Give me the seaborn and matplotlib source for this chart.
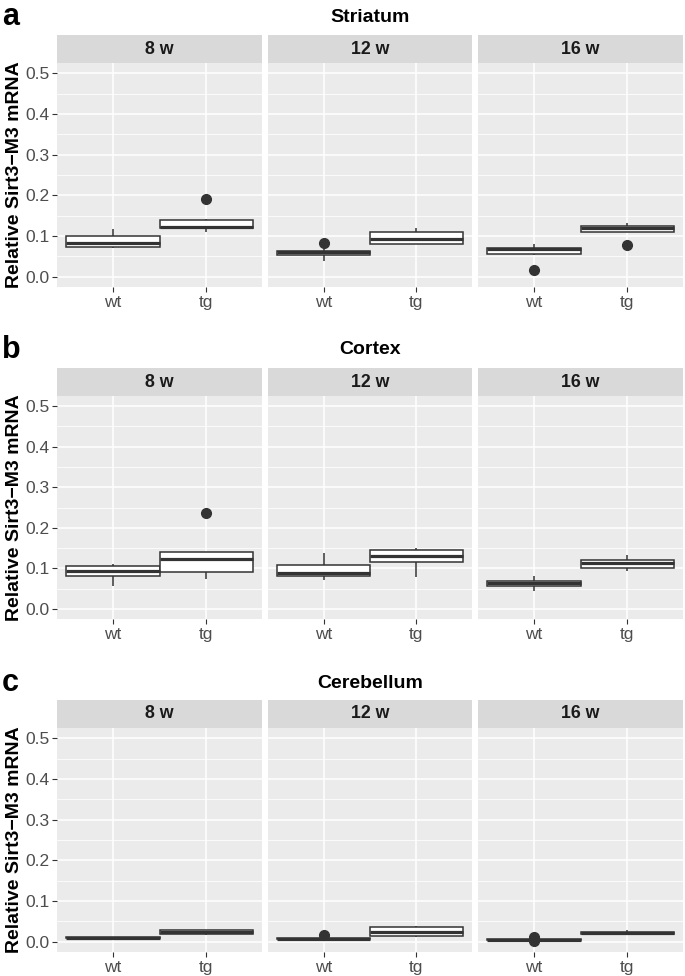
import numpy as np
import pandas as pd
import matplotlib
matplotlib.use("Agg")
import matplotlib.pyplot as plt
import seaborn as sns

plt.rcParams['font.family'] = ['Liberation Sans', 'DejaVu Sans']

# ---------------- data ----------------
tissues = ["Striatum", "Cortex", "Cerebellum"]
panel_letters = ["a", "b", "c"]
ages = ["8 w", "12 w", "16 w"]
genotypes = ["wt", "tg"]
y_ticks = [0.0, 0.1, 0.2, 0.3, 0.4, 0.5]
y_label = "Relative Sirt3\u2212M3 mRNA"

striatum_8w_wt = [0.070, 0.072, 0.073, 0.078, 0.084, 0.090, 0.100, 0.108, 0.117]
striatum_8w_tg = [0.110, 0.118, 0.120, 0.121, 0.123, 0.130, 0.140, 0.1415, 0.191]
striatum_12w_wt = [0.039, 0.050, 0.053, 0.057, 0.061, 0.062, 0.064, 0.070, 0.083]
striatum_12w_tg = [0.080, 0.081, 0.0815, 0.088, 0.092, 0.100, 0.111, 0.115, 0.119]
striatum_16w_wt = [0.016, 0.054, 0.055, 0.060, 0.068, 0.070, 0.0716, 0.076, 0.081]
striatum_16w_tg = [0.078, 0.111, 0.111, 0.115, 0.119, 0.121, 0.124, 0.128, 0.131]

cortex_8w_wt = [0.056, 0.075, 0.082, 0.088, 0.093, 0.100, 0.106, 0.109, 0.111]
cortex_8w_tg = [0.0745, 0.085, 0.090, 0.110, 0.122, 0.130, 0.140, 0.140, 0.236]
cortex_12w_wt = [0.072, 0.077, 0.080, 0.085, 0.089, 0.100, 0.108, 0.120, 0.139]
cortex_12w_tg = [0.078, 0.105, 0.1155, 0.125, 0.131, 0.138, 0.145, 0.148, 0.150]
cortex_16w_wt = [0.044, 0.052, 0.057, 0.060, 0.063, 0.066, 0.0696, 0.075, 0.081]
cortex_16w_tg = [0.094, 0.098, 0.101, 0.108, 0.113, 0.117, 0.121, 0.128, 0.134]

cerebellum_8w_wt = [0.008, 0.0085, 0.009, 0.0095, 0.010, 0.011, 0.012, 0.0125, 0.013]
cerebellum_8w_tg = [0.017, 0.018, 0.019, 0.021, 0.023, 0.025, 0.028, 0.029, 0.030]
cerebellum_12w_wt = [0.005, 0.0055, 0.006, 0.007, 0.008, 0.0085, 0.009, 0.0095, 0.016]
cerebellum_12w_tg = [0.012, 0.014, 0.015, 0.020, 0.023, 0.030, 0.037, 0.039, 0.040]
cerebellum_16w_wt = [0.001, 0.003, 0.0045, 0.0048, 0.005, 0.006, 0.0065, 0.008, 0.011]
cerebellum_16w_tg = [0.017, 0.018, 0.019, 0.021, 0.022, 0.023, 0.024, 0.026, 0.028]

groups = {
    ("Striatum", "8 w", "wt"): striatum_8w_wt, ("Striatum", "8 w", "tg"): striatum_8w_tg,
    ("Striatum", "12 w", "wt"): striatum_12w_wt, ("Striatum", "12 w", "tg"): striatum_12w_tg,
    ("Striatum", "16 w", "wt"): striatum_16w_wt, ("Striatum", "16 w", "tg"): striatum_16w_tg,
    ("Cortex", "8 w", "wt"): cortex_8w_wt, ("Cortex", "8 w", "tg"): cortex_8w_tg,
    ("Cortex", "12 w", "wt"): cortex_12w_wt, ("Cortex", "12 w", "tg"): cortex_12w_tg,
    ("Cortex", "16 w", "wt"): cortex_16w_wt, ("Cortex", "16 w", "tg"): cortex_16w_tg,
    ("Cerebellum", "8 w", "wt"): cerebellum_8w_wt, ("Cerebellum", "8 w", "tg"): cerebellum_8w_tg,
    ("Cerebellum", "12 w", "wt"): cerebellum_12w_wt, ("Cerebellum", "12 w", "tg"): cerebellum_12w_tg,
    ("Cerebellum", "16 w", "wt"): cerebellum_16w_wt, ("Cerebellum", "16 w", "tg"): cerebellum_16w_tg,
}
rows = []
for (t, a, g), vals in groups.items():
    for v in vals:
        rows.append({"tissue": t, "age": a, "genotype": g, "value": v})
df = pd.DataFrame(rows)

# ---------------- layout ----------------
W, H = 685, 976
fig = plt.figure(figsize=(W / 100, H / 100), dpi=100)
fig.patch.set_facecolor("white")

panel_x = [(57, 262), (268, 472), (478, 683)]
row_geom = [  # strip top, panel top, panel bottom, title y
    (35, 63, 287, 17),
    (368, 396, 619, 350),
    (700, 728, 952, 683),
]

EDGE = "#333333"
for r, tissue in enumerate(tissues):
    s_top, p_top, p_bot, t_y = row_geom[r]
    fig.text(2 / W, 1 - t_y / H, panel_letters[r], fontsize=22, fontweight="bold",
             ha="left", va="center", color="black")
    fig.text((57 + 683) / 2 / W, 1 - t_y / H, tissue, fontsize=14, fontweight="bold",
             ha="center", va="center", color="black")
    fig.text(15 / W, 1 - (p_top + p_bot) / 2 / H, y_label, fontsize=14,
             fontweight="bold", rotation=90, ha="center", va="center", color="black")
    for c, age in enumerate(ages):
        x0, x1 = panel_x[c]
        ax = fig.add_axes([x0 / W, 1 - p_bot / H, (x1 - x0) / W, (p_bot - p_top) / H])
        sub = df[(df.tissue == tissue) & (df.age == age)]
        sns.boxplot(data=sub, x="genotype", y="value", order=genotypes, ax=ax,
                    width=1.0, color="white", saturation=1, linecolor=EDGE,
                    linewidth=1.1, showcaps=False, whis=1.5, fliersize=7,
                    medianprops={"linewidth": 2.3, "color": EDGE},
                    flierprops={"marker": "o", "markerfacecolor": EDGE,
                                "markeredgecolor": EDGE, "markersize": 7})
        ax.set_xlim(-0.6, 1.6)
        ax.set_ylim(-0.025, 0.525)
        ax.set_facecolor("#EBEBEB")
        for sp in ax.spines.values():
            sp.set_visible(False)
        ax.set_yticks(y_ticks)
        ax.set_yticks([0.05, 0.15, 0.25, 0.35, 0.45], minor=True)
        ax.set_axisbelow(True)
        ax.grid(True, which="major", axis="both", color="white", linewidth=1.1)
        ax.grid(True, which="minor", axis="y", color="white", linewidth=0.55)
        ax.tick_params(axis="both", which="major", length=3.5, width=0.8, color=EDGE,
                       labelcolor="#4D4D4D", labelsize=12.5, pad=2)
        ax.tick_params(axis="both", which="minor", length=0)
        ax.set_xlabel("")
        ax.set_ylabel("")
        if c == 0:
            ax.set_yticklabels([f"{v:.1f}" for v in y_ticks])
        else:
            ax.tick_params(axis="y", which="major", length=0, labelleft=False)
        # strip
        sax = fig.add_axes([x0 / W, 1 - p_top / H, (x1 - x0) / W, (p_top - s_top) / H])
        sax.set_facecolor("#D9D9D9")
        sax.set_xticks([])
        sax.set_yticks([])
        for sp in sax.spines.values():
            sp.set_visible(False)
        sax.text(0.5, 0.5, age, transform=sax.transAxes, ha="center", va="center",
                 fontsize=12.8, fontweight="bold", color="#1A1A1A")

fig.savefig("out.png", dpi=100)
